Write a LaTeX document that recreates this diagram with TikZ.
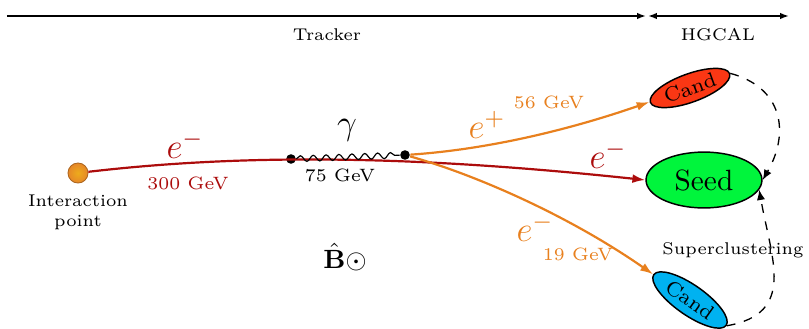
\documentclass[tikz,border=0pt]{standalone}
\usepackage{amsmath,amssymb}
\usepackage{xcolor}
\usepackage{tikz}
\usetikzlibrary{positioning, arrows.meta, shapes.geometric, decorations.pathmorphing}
\definecolor{trackred}{RGB}{172,12,12}
\definecolor{brem}{RGB}{232,128,30}
\definecolor{seedgreen}{RGB}{0,245,60}
\definecolor{candred}{RGB}{250,55,20}
\definecolor{candblue}{RGB}{0,178,240}
\definecolor{ipball}{RGB}{230,135,40}
\newcommand{\tinylbl}{\fontsize{5.8}{6.8}\selectfont}
\newcommand{\gevsize}{\fontsize{6.1}{7.5}\selectfont}
\tikzset{
  lbl/.style={inner sep=0pt, font=\tinylbl},
  gev/.style={inner sep=0pt, font=\gevsize},
  particle/.style={inner sep=0pt, font=\large},
  vertex/.style={circle, fill=black, inner sep=0pt, minimum size=0.115cm},
  cluster/.style={ellipse, draw=black, line width=0.5pt, inner sep=0pt, font=\scriptsize},
  track/.style={line width=0.75pt, -{Latex[length=4.4pt,width=3pt]}},
  extent/.style={line width=0.6pt},
  merge/.style={dashed, line width=0.45pt, -{Latex[length=3.5pt,width=2.8pt]}},
}

\begin{document}
\begin{tikzpicture}[x=0.012cm, y=0.012cm]
  \useasboundingbox (0,0) rectangle (809,328);

  % detector extents
  \coordinate (trkL) at (7,312);
  \coordinate (trkR) at (646,312);
  \coordinate (calL) at (648,312);
  \coordinate (calR) at (789,312);
  \draw[extent, -{Latex[length=3pt,width=2.2pt]}] (trkL) -- (trkR);
  \draw[extent, {Latex[length=3pt,width=2.2pt]}-{Latex[length=3pt,width=2.2pt]}] (calL) -- (calR);
  \node[lbl] (tracker) at (327,293) {Tracker};
  \node[lbl] (hgcal) at (718,293) {HGCAL};

  % interaction point and clusters
  \node[circle, draw=ipball!75!black, line width=0.3pt, inner color=ipball!70!yellow, outer color=ipball,
        minimum size=0.24cm, inner sep=0pt] (ip) at (78,155) {};
  \node[lbl, align=center] (iplabel) at (78,116) {Interaction\\point};
  \node[cluster, fill=seedgreen, minimum width=1.39cm, minimum height=0.67cm, font=\normalsize] (seed) at (704,148) {Seed};
  \node[cluster, fill=candred, rotate=20, minimum width=1.01cm, minimum height=0.34cm] (ctop) at (690,240) {Cand};
  \node[cluster, fill=candblue, rotate=-35, minimum width=1.06cm, minimum height=0.36cm] (cbot) at (690,28) {Cand};

  % vertices
  \node[vertex] (bremvtx) at (291,169) {};
  \node[vertex] (convvtx) at (405,173) {};

  % tracks
  \draw[track, trackred] (ip) .. controls (250,175) and (420,172) .. (seed.west);
  \draw[line width=0.4pt, decorate, decoration={snake, amplitude=1pt, segment length=4.4pt}] (bremvtx) -- (convvtx);
  \draw[track, brem] (convvtx) .. controls (480,178) and (560,195) .. (ctop);
  \draw[track, brem] (convvtx) .. controls (470,155) and (565,115) .. (cbot);

  % labels
  \node[particle, text=trackred] (eprim) at (185,183) {$e^-$};
  \node[gev, text=trackred] (eprimE) at (188,145) {300 GeV};
  \node[particle] (gamma) at (347,198) {$\gamma$};
  \node[gev] (gammaE) at (340,153) {75 GeV};
  \node[particle, text=brem] (epos) at (487,203) {$e^+$};
  \node[gev, text=brem] (eposE) at (549,226) {56 GeV};
  \node[particle, text=trackred] (eseed) at (608,173) {$e^-$};
  \node[particle, text=brem] (esec) at (535,100) {$e^-$};
  \node[gev, text=brem] (esecE) at (578,74) {19 GeV};
  \node[inner sep=0pt, font=\small] (bfield) at (345,71) {$\hat{\mathbf{B}}\odot$};

  % superclustering
  \draw[merge] (ctop.east) to[out=-15, in=60, looseness=1.25] (seed.east);
  \draw[merge] (cbot.east) to[out=10, in=-80, looseness=1.3] (seed.-10);
  \node[lbl] (sclabel) at (733,78) {Superclustering};
\end{tikzpicture}
\end{document}
